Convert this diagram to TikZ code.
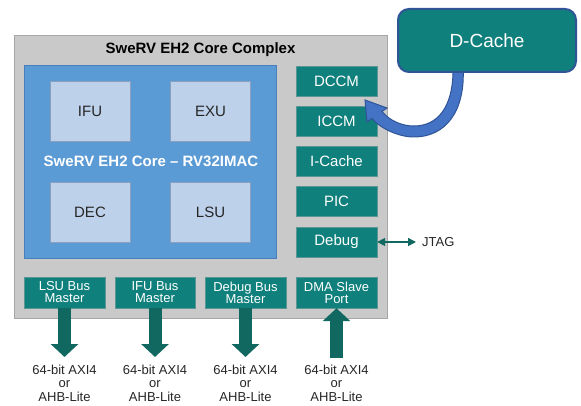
\documentclass[tikz,border=0pt]{standalone}
\usepackage{fontspec}
\setmainfont{Liberation Sans}
\usetikzlibrary{arrows.meta}
\definecolor{graybg}{RGB}{201,201,201}
\definecolor{grayline}{RGB}{166,166,166}
\definecolor{coreblue}{RGB}{91,155,213}
\definecolor{coreline}{RGB}{74,126,187}
\definecolor{lightblue}{RGB}{189,209,234}
\definecolor{lightline}{RGB}{140,160,190}
\definecolor{tealc}{RGB}{16,128,124}
\definecolor{tealline}{RGB}{90,150,148}
\definecolor{arrowteal}{RGB}{16,104,96}
\definecolor{darkblue}{RGB}{47,85,151}
\definecolor{midblue}{RGB}{68,114,196}
\definecolor{darktext}{RGB}{38,38,38}
\begin{document}
\begin{tikzpicture}[x=1pt,y=-1pt,
  tealbox/.style={draw=tealline, fill=tealc, text=white, minimum width=81pt, minimum height=30pt, inner sep=0pt, font=\fontsize{15}{15}\selectfont},
  busbox/.style={tealbox, minimum height=31pt, align=center, font=\fontsize{13}{12}\selectfont},
  lightbox/.style={draw=lightline, fill=lightblue, text=darktext, minimum width=80pt, minimum height=60pt, inner sep=0pt, font=\fontsize{15}{15}\selectfont},
  bustext/.style={align=center, text=darktext, inner sep=0pt, font=\fontsize{13}{13.5}\selectfont},
  bigarrow/.style={draw=arrowteal, line width=13pt, -{Triangle[length=13pt 0, width=27pt 0]}},
]
\useasboundingbox (0,0) rectangle (581,406);
% complex
\node[draw=grayline, fill=graybg, minimum width=373pt, minimum height=283pt, inner sep=0pt] (cx) at (200.5,176.5) {};
\node[font=\bfseries\fontsize{15}{15}\selectfont, text=black, inner sep=0pt] (title) at (200.5,50) {SweRV EH2 Core Complex};
% core
\node[draw=coreline, fill=coreblue, minimum width=252pt, minimum height=193pt, inner sep=0pt] (core) at (150,161.5) {};
\node[lightbox] (ifu) at (90,111) {IFU};
\node[lightbox] (exu) at (210.5,111) {EXU};
\node[lightbox] (dec) at (90,212) {DEC};
\node[lightbox] (lsu) at (210.5,212) {LSU};
\node[font=\bfseries\fontsize{15}{15}\selectfont, text=white, inner sep=0pt] (corelbl) at (151,161) {SweRV EH2 Core -- RV32IMAC};
% right column
\node[tealbox] (dccm) at (336.5,81) {DCCM};
\node[tealbox] (iccm) at (336.5,121) {ICCM};
\node[tealbox] (icache) at (336.5,161) {I-Cache};
\node[tealbox] (pic) at (336.5,201) {PIC};
\node[tealbox] (debug) at (336.5,242) {Debug};
\node[busbox] (dma) at (336.5,292.5) {DMA Slave\\Port};
% bottom row
\node[busbox] (lsubm) at (64.5,292.5) {LSU Bus\\Master};
\node[busbox, minimum width=80pt] (ifubm) at (155,292.5) {IFU Bus\\Master};
\node[busbox] (dbgbm) at (245.5,292.5) {Debug Bus\\Master};
% bus texts
\node[bustext] (t1) at (64.5,383) {64-bit AXI4\\or\\AHB-Lite};
\node[bustext] (t2) at (155,383) {64-bit AXI4\\or\\AHB-Lite};
\node[bustext] (t3) at (245.5,383) {64-bit AXI4\\or\\AHB-Lite};
\node[bustext] (t4) at (336.5,383) {64-bit AXI4\\or\\AHB-Lite};
\coordinate (e1) at (64.5,357);
\coordinate (e2) at (155,357);
\coordinate (e3) at (245.5,357);
\coordinate (s4) at (336.5,358);
\draw[bigarrow] (lsubm.south) -- (e1);
\draw[bigarrow] (ifubm.south) -- (e2);
\draw[bigarrow] (dbgbm.south) -- (e3);
\draw[bigarrow] (s4) -- (dma.south);
% JTAG
\node[text=darktext, anchor=west, inner sep=0pt, font=\fontsize{13}{13}\selectfont] (jtag) at (422,242) {JTAG};
\draw[draw=arrowteal, line width=1.6pt, {Triangle[length=8pt 0, width=8pt 0]}-{Triangle[length=8pt 0, width=8pt 0]}] (debug.east) -- ([xshift=-6pt]jtag.west);
% curved arrow from D-Cache to ICCM
\fill[midblue, draw=darkblue, line width=1pt]
  (463,66) .. controls (466,112) and (445,137) .. (414,137)
  .. controls (398,137) and (380,128) .. (372,118.5)
  -- (367,122) -- (365,100) -- (387,108) -- (382,111.5)
  .. controls (390,121) and (402,126) .. (414,126)
  .. controls (437,126) and (454,108) .. (453,66) -- cycle;
% D-Cache
\node[draw=darkblue, fill=tealc, line width=2pt, rounded corners=11pt, minimum width=178pt, minimum height=63pt, text=white, font=\fontsize{19}{19}\selectfont] (dcache) at (487,40.5) {D-Cache};
\end{tikzpicture}
\end{document}
